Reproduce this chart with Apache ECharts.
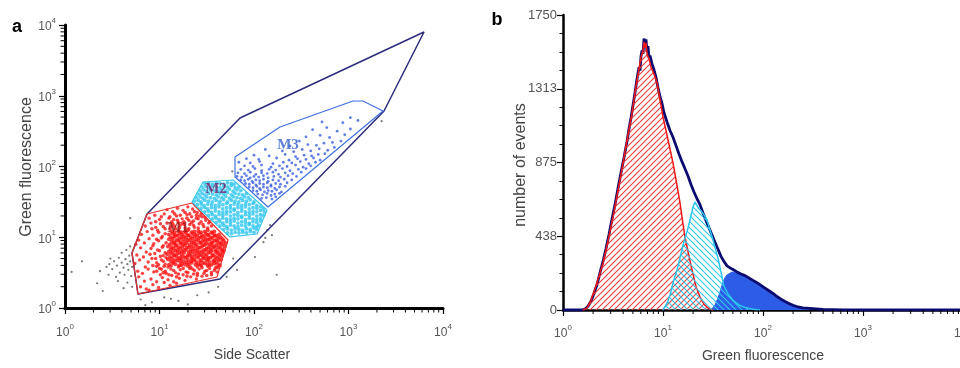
<!DOCTYPE html>
<html><head><meta charset="utf-8">
<script src="https://cdn.jsdelivr.net/npm/echarts@6/dist/echarts.min.js"></script>
<style>html,body{margin:0;padding:0;background:#fff}#c{width:960px;height:368px}</style>
</head><body><div id="c"></div>
<script>
// ---------- DATA (scatter values are log10 of Side Scatter / Green fluorescence) ----------
const decades = [1, 10, 100, 1000];
const minorMults = [2, 3, 4, 5, 6, 7, 8, 9];
const countTicks = [0, 437.5, 875, 1312.5, 1750];

const gateOuter = [[0.868,1.329],[1.852,2.686],[3.799,3.901],[3.376,2.784],[1.640,0.410],[0.772,0.198],[0.709,0.777],[0.868,1.329]];
const gateM1 = [[0.868,1.329],[1.344,1.484],[1.725,0.961],[1.608,0.438],[0.772,0.198],[0.709,0.777],[0.868,1.329]];
const gateM2 = [[1.344,1.498],[1.460,1.781],[1.778,1.809],[2.138,1.385],[2.032,1.046],[1.746,1.004],[1.344,1.498]];
const gateM3 = [[1.799,2.134],[2.275,2.558],[3.048,2.926],[3.153,2.926],[3.365,2.784],[2.148,1.428],[1.873,1.767],[1.799,1.852],[1.799,2.134]];
const gateLabels = [['M1',1.196,1.131],['M2',1.598,1.682],['M3',2.36,2.30]];

const redOuter = [
[0.80,0.30],[0.86,0.27],[0.93,0.33],[0.99,0.29],[1.05,0.36],[1.11,0.32],[0.84,0.38],[0.91,0.41],[0.97,0.37],[1.03,0.43],[1.09,0.40],[1.15,0.37],[1.21,0.42],[1.27,0.39],[1.33,0.44],[1.39,0.41],[1.45,0.45],[0.78,0.44],[1.18,0.35],[0.89,0.25],[1.01,0.47],[1.13,0.46],[1.25,0.47],[1.36,0.48],[1.47,0.49],[1.55,0.47],
[0.77,0.52],[0.82,0.49],[0.88,0.55],[0.94,0.51],[1.00,0.56],[1.06,0.52],[1.12,0.55],[1.17,0.50],[1.22,0.54],[1.28,0.51],[1.32,0.56],[1.37,0.53],[1.42,0.55],[1.48,0.52],[1.53,0.56],[1.58,0.53],[1.61,0.51],[0.85,0.58],[0.97,0.59],[1.09,0.58],[1.20,0.58],[1.30,0.59],[1.40,0.58],[1.51,0.59],[1.60,0.58],
[0.74,0.63],[0.79,0.68],[0.76,0.75],[0.83,0.72],[0.88,0.65],[0.92,0.70],[0.97,0.64],[1.02,0.68],[1.06,0.62],[0.86,0.79],[0.80,0.85],[0.75,0.90],[0.91,0.84],[0.95,0.77],[1.00,0.81],[1.04,0.74],[0.78,0.96],[0.84,0.92],[0.89,0.98],[0.94,0.91],[0.99,0.95],[1.04,0.88],[0.81,1.04],[0.87,1.08],[0.93,1.03],[0.98,1.10],[1.03,1.01],[0.85,1.16],[0.91,1.20],[0.96,1.14],[1.01,1.19],[1.06,1.12],[0.89,1.27],[0.95,1.31],[1.00,1.25],[1.05,1.33],[1.10,1.27],[1.08,1.39],[1.14,1.36],[1.19,1.41],[1.25,1.38],[1.30,1.43],[1.13,1.22],[1.18,1.30],[1.24,1.26],[1.29,1.32],[1.34,1.29],[1.35,1.40],[1.40,1.35],
[1.12,1.15],[1.17,1.12],[1.22,1.17],[1.27,1.13],[1.32,1.18],[1.37,1.14],[1.42,1.19],[1.47,1.15],[1.52,1.20],[1.15,1.25],[1.20,1.21],[1.26,1.22],[1.31,1.24],[1.36,1.23],[1.41,1.26],[1.45,1.29],[1.49,1.24],[1.39,1.31],[1.44,1.33]
];
const redMid = [
[0.97,0.52],[1.02,0.55],[1.07,0.49],[0.99,0.61],[1.04,0.66],[0.96,0.70],[1.01,0.73],[1.06,0.78],[0.98,0.82],[1.03,0.86],[1.07,0.92],[0.97,0.97],[1.02,0.99],[1.06,1.05],[0.99,1.07],[1.04,1.15],[1.08,1.20],[0.96,1.22],[1.02,1.29],[1.07,0.71],[1.05,0.59],[0.93,0.60],[0.90,0.76],[0.93,0.88],[0.92,1.12],
[1.11,1.12],[1.16,1.16],[1.21,1.13],[1.26,1.18],[1.31,1.12],[1.36,1.17],[1.41,1.13],[1.46,1.18],[1.51,1.13],[1.55,1.16],[1.14,1.19],[1.19,1.24],[1.24,1.20],[1.29,1.27],[1.34,1.21],[1.39,1.27],[1.44,1.22],[1.48,1.28],[1.53,1.22],[1.22,1.31],[1.27,1.35],[1.32,1.33],[1.37,1.36],[1.42,1.30],[1.16,1.33],[1.11,1.29],
[1.04,0.50],[1.10,0.47],[1.15,0.53],[1.20,0.48],[1.25,0.56],[1.30,0.50],[1.35,0.55],[1.40,0.49],[1.45,0.57],[1.50,0.53],[1.55,0.50],[1.59,0.56],[1.12,0.59],[1.23,0.60],[1.33,0.58],[1.43,0.61],[1.53,0.60],[1.62,0.57],[1.18,0.44],[1.29,0.45],[1.40,0.46],[1.50,0.46]
];
const redCore = [
[1.10,0.61],[1.14,0.63],[1.17,0.62],[1.21,0.60],[1.24,0.63],[1.27,0.61],[1.31,0.62],[1.34,0.64],[1.38,0.61],[1.41,0.62],[1.44,0.60],[1.48,0.63],[1.51,0.62],[1.55,0.61],[1.58,0.63],[1.62,0.62],[1.64,0.60],
[1.12,0.66],[1.15,0.65],[1.19,0.67],[1.22,0.65],[1.26,0.66],[1.29,0.64],[1.33,0.66],[1.36,0.67],[1.39,0.65],[1.43,0.66],[1.46,0.64],[1.50,0.67],[1.53,0.65],[1.57,0.66],[1.60,0.65],[1.63,0.67],
[1.09,0.69],[1.13,0.70],[1.16,0.68],[1.20,0.70],[1.23,0.69],[1.27,0.71],[1.30,0.68],[1.34,0.70],[1.37,0.69],[1.41,0.71],[1.44,0.68],[1.47,0.70],[1.51,0.69],[1.54,0.71],[1.58,0.68],[1.61,0.70],[1.65,0.69],
[1.11,0.72],[1.15,0.74],[1.18,0.73],[1.22,0.71],[1.25,0.73],[1.29,0.72],[1.32,0.74],[1.35,0.72],[1.39,0.73],[1.42,0.75],[1.46,0.72],[1.49,0.73],[1.52,0.71],[1.56,0.74],[1.59,0.72],[1.63,0.73],[1.66,0.74],
[1.08,0.76],[1.12,0.77],[1.16,0.75],[1.19,0.77],[1.23,0.76],[1.26,0.78],[1.30,0.75],[1.33,0.77],[1.37,0.76],[1.40,0.78],[1.44,0.75],[1.47,0.77],[1.50,0.76],[1.54,0.78],[1.57,0.75],[1.61,0.77],[1.64,0.76],[1.67,0.78],
[1.10,0.80],[1.14,0.79],[1.17,0.81],[1.21,0.79],[1.24,0.80],[1.28,0.82],[1.31,0.79],[1.35,0.80],[1.38,0.81],[1.42,0.79],[1.45,0.80],[1.49,0.82],[1.52,0.79],[1.55,0.81],[1.59,0.80],[1.62,0.79],[1.66,0.81],[1.68,0.81],
[1.12,0.83],[1.15,0.84],[1.19,0.82],[1.22,0.84],[1.26,0.83],[1.29,0.85],[1.33,0.82],[1.36,0.84],[1.40,0.83],[1.43,0.85],[1.47,0.82],[1.50,0.84],[1.54,0.83],[1.57,0.85],[1.60,0.82],[1.64,0.84],[1.67,0.83],
[1.09,0.87],[1.13,0.86],[1.17,0.88],[1.20,0.86],[1.24,0.87],[1.27,0.89],[1.31,0.86],[1.34,0.87],[1.38,0.88],[1.41,0.86],[1.45,0.87],[1.48,0.89],[1.52,0.86],[1.55,0.88],[1.58,0.87],[1.62,0.86],[1.65,0.88],[1.69,0.87],
[1.11,0.90],[1.15,0.91],[1.18,0.89],[1.22,0.91],[1.25,0.90],[1.29,0.92],[1.32,0.89],[1.36,0.91],[1.39,0.90],[1.43,0.92],[1.46,0.89],[1.50,0.91],[1.53,0.90],[1.56,0.92],[1.60,0.89],[1.63,0.91],[1.67,0.90],[1.70,0.92],
[1.13,0.94],[1.16,0.93],[1.20,0.95],[1.23,0.93],[1.27,0.94],[1.30,0.96],[1.34,0.93],[1.37,0.94],[1.41,0.95],[1.44,0.93],[1.48,0.94],[1.51,0.96],[1.55,0.93],[1.58,0.95],[1.61,0.94],[1.65,0.93],[1.68,0.95],
[1.10,0.97],[1.14,0.98],[1.18,0.96],[1.21,0.98],[1.25,0.97],[1.28,0.99],[1.32,0.96],[1.35,0.98],[1.39,0.97],[1.42,0.99],[1.46,0.96],[1.49,0.98],[1.53,0.97],[1.56,0.99],[1.60,0.96],[1.63,0.98],[1.67,0.97],
[1.12,1.00],[1.16,1.01],[1.19,1.02],[1.23,1.00],[1.26,1.01],[1.30,1.03],[1.33,1.00],[1.37,1.01],[1.40,1.02],[1.44,1.00],[1.47,1.01],[1.51,1.03],[1.54,1.00],[1.58,1.02],[1.61,1.01],[1.65,1.00],
[1.10,1.04],[1.14,1.05],[1.17,1.03],[1.21,1.05],[1.24,1.04],[1.28,1.06],[1.31,1.03],[1.35,1.05],[1.38,1.04],[1.42,1.06],[1.45,1.03],[1.49,1.05],[1.52,1.04],[1.56,1.06],[1.59,1.03],[1.63,1.04],
[1.13,1.08],[1.16,1.07],[1.20,1.09],[1.23,1.07],[1.27,1.08],[1.30,1.10],[1.34,1.07],[1.37,1.08],[1.41,1.09],[1.44,1.07],[1.48,1.08],[1.51,1.10],[1.55,1.07],[1.58,1.08]
];

const cyanPts = [
[1.72,1.06],[1.76,1.05],[1.80,1.07],[1.84,1.06],[1.88,1.07],[1.92,1.06],[1.96,1.08],[2.00,1.07],
[1.68,1.11],[1.72,1.12],[1.76,1.10],[1.80,1.12],[1.84,1.11],[1.88,1.10],[1.92,1.12],[1.96,1.11],[2.00,1.13],[2.03,1.11],
[1.64,1.16],[1.68,1.17],[1.71,1.15],[1.75,1.17],[1.79,1.16],[1.83,1.15],[1.87,1.17],[1.91,1.16],[1.95,1.18],[1.99,1.16],[2.03,1.15],[2.05,1.17],
[1.60,1.21],[1.64,1.22],[1.67,1.20],[1.71,1.22],[1.75,1.21],[1.79,1.23],[1.83,1.20],[1.87,1.22],[1.91,1.21],[1.95,1.20],[1.99,1.22],[2.03,1.21],[2.07,1.23],
[1.56,1.26],[1.60,1.27],[1.63,1.25],[1.67,1.27],[1.71,1.26],[1.75,1.25],[1.79,1.27],[1.83,1.26],[1.87,1.28],[1.91,1.25],[1.95,1.27],[1.99,1.26],[2.03,1.25],[2.07,1.27],
[1.52,1.31],[1.56,1.32],[1.59,1.30],[1.63,1.32],[1.67,1.31],[1.71,1.33],[1.75,1.30],[1.79,1.32],[1.83,1.31],[1.87,1.30],[1.91,1.32],[1.95,1.31],[1.99,1.33],[2.03,1.30],[2.07,1.32],[2.10,1.31],
[1.48,1.36],[1.52,1.37],[1.55,1.35],[1.59,1.37],[1.63,1.36],[1.67,1.35],[1.71,1.37],[1.75,1.36],[1.79,1.38],[1.83,1.35],[1.87,1.37],[1.91,1.36],[1.95,1.35],[1.99,1.37],[2.03,1.36],[2.07,1.38],[2.11,1.36],
[1.44,1.41],[1.48,1.42],[1.51,1.40],[1.55,1.42],[1.59,1.41],[1.63,1.43],[1.67,1.40],[1.71,1.42],[1.75,1.41],[1.79,1.40],[1.83,1.42],[1.87,1.41],[1.91,1.43],[1.95,1.40],[1.99,1.42],[2.03,1.41],[2.07,1.43],[2.10,1.40],
[1.40,1.46],[1.44,1.47],[1.47,1.45],[1.51,1.47],[1.55,1.46],[1.59,1.45],[1.63,1.47],[1.67,1.46],[1.71,1.48],[1.75,1.45],[1.79,1.47],[1.83,1.46],[1.87,1.45],[1.91,1.47],[1.95,1.46],[1.99,1.48],[2.03,1.45],
[1.37,1.51],[1.41,1.52],[1.44,1.50],[1.48,1.52],[1.52,1.51],[1.56,1.50],[1.60,1.52],[1.64,1.51],[1.68,1.53],[1.72,1.50],[1.76,1.52],[1.80,1.51],[1.84,1.50],[1.88,1.52],[1.92,1.51],[1.96,1.53],[2.00,1.50],
[1.39,1.56],[1.43,1.57],[1.46,1.55],[1.50,1.57],[1.54,1.56],[1.58,1.55],[1.62,1.57],[1.66,1.56],[1.70,1.58],[1.74,1.55],[1.78,1.57],[1.82,1.56],[1.86,1.55],[1.90,1.57],[1.94,1.56],
[1.41,1.61],[1.45,1.62],[1.48,1.60],[1.52,1.62],[1.56,1.61],[1.60,1.60],[1.64,1.62],[1.68,1.61],[1.72,1.63],[1.76,1.60],[1.80,1.62],[1.84,1.61],[1.88,1.60],[1.92,1.62],
[1.43,1.66],[1.47,1.67],[1.50,1.65],[1.54,1.67],[1.58,1.66],[1.62,1.65],[1.66,1.67],[1.70,1.66],[1.74,1.68],[1.78,1.65],[1.82,1.67],[1.86,1.66],
[1.45,1.71],[1.49,1.72],[1.52,1.70],[1.56,1.72],[1.60,1.71],[1.64,1.70],[1.68,1.72],[1.72,1.71],[1.76,1.73],[1.80,1.70],[1.84,1.71],
[1.48,1.76],[1.52,1.77],[1.56,1.75],[1.60,1.77],[1.64,1.76],[1.68,1.75],[1.72,1.77],[1.76,1.76],[1.79,1.75]
];

const bluePts = [
[2.08,1.55],[2.13,1.56],[2.19,1.54],[2.23,1.57],
[2.04,1.61],[2.09,1.60],[2.14,1.62],[2.18,1.59],[2.22,1.61],[2.27,1.62],
[1.99,1.66],[2.03,1.65],[2.07,1.67],[2.11,1.64],[2.15,1.66],[2.19,1.65],[2.24,1.67],[2.29,1.64],
[1.95,1.71],[1.99,1.70],[2.03,1.72],[2.06,1.69],[2.10,1.71],[2.14,1.70],[2.18,1.72],[2.22,1.69],[2.27,1.71],[2.33,1.72],
[1.91,1.76],[1.95,1.75],[1.99,1.77],[2.02,1.74],[2.06,1.76],[2.10,1.75],[2.14,1.77],[2.18,1.74],[2.23,1.76],[2.28,1.75],[2.35,1.77],
[1.86,1.81],[1.90,1.80],[1.94,1.82],[1.98,1.79],[2.02,1.81],[2.06,1.80],[2.10,1.82],[2.15,1.79],[2.20,1.81],[2.26,1.80],[2.32,1.82],[2.40,1.81],
[1.82,1.86],[1.87,1.85],[1.92,1.87],[1.96,1.84],[2.00,1.86],[2.05,1.85],[2.10,1.87],[2.15,1.84],[2.21,1.86],[2.28,1.85],[2.36,1.87],[2.45,1.86],
[1.83,1.91],[1.90,1.90],[1.96,1.92],[2.02,1.89],[2.08,1.91],[2.14,1.90],[2.20,1.92],[2.26,1.89],[2.33,1.91],[2.41,1.90],[2.50,1.92],
[1.86,1.96],[1.94,1.95],[2.01,1.97],[2.08,1.94],[2.16,1.96],[2.23,1.95],[2.30,1.97],[2.38,1.94],[2.47,1.96],[2.55,1.97],
[1.90,2.01],[1.99,2.00],[2.08,2.02],[2.18,1.99],[2.27,2.01],[2.35,2.00],[2.44,2.02],[2.52,1.99],[2.60,2.01],
[1.84,2.06],[1.96,2.05],[2.06,2.07],[2.20,2.04],[2.31,2.06],[2.40,2.05],[2.49,2.07],[2.58,2.04],[2.65,2.06],
[1.92,2.11],[2.05,2.10],[2.24,2.12],[2.37,2.09],[2.46,2.11],[2.55,2.10],[2.63,2.12],[2.70,2.09],
[2.00,2.16],[2.16,2.15],[2.33,2.17],[2.44,2.14],[2.53,2.16],[2.61,2.15],[2.68,2.17],[2.75,2.18],
[2.30,2.22],[2.42,2.21],[2.51,2.24],[2.60,2.22],[2.69,2.25],[2.78,2.23],[2.85,2.27],[2.12,2.24],[2.38,2.29],[2.57,2.31],[2.66,2.30],[2.74,2.33],[2.83,2.34],[2.92,2.36],[2.48,2.36],
[2.55,2.42],[2.70,2.44],[2.80,2.41],[2.96,2.45],[2.62,2.52],[2.77,2.55],[2.88,2.50],[3.02,2.53],[2.94,2.62],[3.02,2.69],[2.72,2.63],[3.10,2.65]
];

const grayPts = [
[0.07,0.51],[0.18,0.66],[0.34,0.35],[0.40,0.24],[0.37,0.52],[0.44,0.58],[0.47,0.62],[0.50,0.55],[0.52,0.66],[0.55,0.60],[0.57,0.71],[0.60,0.64],[0.62,0.57],[0.64,0.69],[0.66,0.62],[0.68,0.74],[0.58,0.50],[0.63,0.47],[0.67,0.54],[0.70,0.45],[0.54,0.44],[0.60,0.78],[0.65,0.82],[0.69,0.66],[0.71,0.58],[0.48,0.70],[0.56,0.38],[0.66,0.36],[0.71,0.30],[0.62,0.28],[0.69,0.87],[0.46,0.47],
[0.80,0.12],[0.92,0.08],[1.05,0.15],[1.12,0.13],[1.20,0.10],[1.30,0.05],[1.40,0.18],[1.52,0.22],[1.62,0.30],[0.85,0.04],
[1.71,0.44],[1.82,0.54],[1.78,0.70],[2.17,1.17],[2.14,1.10],[2.12,0.99],[2.19,1.03],[2.10,0.93],[0.69,1.27],[3.35,2.64],[2.01,0.72],[2.24,0.47],[1.77,1.93]
];

// histograms: [log10(Green fluorescence), number of events]
const histTotal = [
[0.00,0],[0.10,0],[0.19,0],[0.22,6],[0.25,22],[0.28,52],[0.31,98],[0.34,150],[0.37,222],[0.40,288],[0.43,365],[0.46,448],[0.49,540],[0.52,625],[0.55,722],[0.58,815],[0.61,905],[0.64,1000],[0.66,1075],[0.68,1140],[0.70,1215],[0.72,1290],[0.74,1370],[0.76,1440],[0.77,1420],[0.78,1505],[0.79,1540],[0.80,1520],[0.81,1610],[0.82,1575],[0.83,1605],[0.84,1530],[0.85,1565],[0.86,1495],[0.87,1510],[0.89,1460],[0.91,1425],[0.93,1380],[0.95,1320],[0.97,1265],[0.99,1225],[1.01,1170],[1.04,1115],[1.07,1065],[1.10,1025],[1.13,975],[1.16,925],[1.19,880],[1.22,838],[1.25,795],[1.28,745],[1.31,700],[1.34,660],[1.37,625],[1.40,575],[1.43,530],[1.46,488],[1.49,445],[1.52,402],[1.55,360],[1.58,318],[1.61,288],[1.64,262],[1.67,250],[1.70,240],[1.74,226],[1.78,214],[1.82,204],[1.86,190],[1.90,176],[1.94,162],[1.98,146],[2.02,130],[2.06,114],[2.10,98],[2.14,80],[2.18,64],[2.22,50],[2.26,38],[2.30,28],[2.35,18],[2.40,12],[2.50,8],[2.60,4],[2.70,2],[2.80,0],[3.20,0],[4.00,0]
];
const histM1 = [
[0.20,0],[0.24,12],[0.28,58],[0.32,128],[0.36,200],[0.40,279],[0.45,410],[0.50,552],[0.55,710],[0.60,872],[0.65,1040],[0.69,1168],[0.73,1330],[0.76,1430],[0.78,1500],[0.80,1540],[0.81,1590],[0.82,1555],[0.83,1585],[0.84,1520],[0.86,1490],[0.88,1440],[0.91,1400],[0.94,1350],[0.97,1250],[1.00,1145],[1.05,1010],[1.10,872],[1.14,740],[1.17,635],[1.20,510],[1.22,433],[1.26,320],[1.29,237],[1.33,140],[1.37,77],[1.41,35],[1.45,12],[1.50,0]
];
const histM2 = [
[1.00,0],[1.04,40],[1.07,89],[1.10,160],[1.14,237],[1.17,310],[1.20,385],[1.25,486],[1.28,560],[1.30,611],[1.32,640],[1.34,635],[1.36,600],[1.39,581],[1.42,555],[1.44,534],[1.47,475],[1.50,415],[1.53,350],[1.55,308],[1.58,225],[1.61,142],[1.65,95],[1.70,58],[1.76,30],[1.82,15],[1.90,5],[1.97,0]
];
const histM3 = [
[1.48,0],[1.52,30],[1.55,71],[1.58,125],[1.60,166],[1.62,192],[1.64,208],[1.66,218],[1.69,225],[1.72,222],[1.77,214],[1.81,204],[1.84,196],[1.88,180],[1.92,168],[1.96,152],[1.99,140],[2.04,112],[2.10,89],[2.16,62],[2.24,42],[2.30,24],[2.37,14],[2.50,8],[2.60,4],[2.67,0]
];

// ---------- BUILD ----------
const P = v => Math.pow(10, v);
const toReal = arr => arr.map(p => [P(p[0]), P(p[1])]);
const histReal = arr => arr.map(p => [P(p[0]), p[1]]);
const minorVals = [];
decades.forEach(d => minorMults.forEach(m => minorVals.push(d * m)));

function hatch(color, dir) {
  const s = 6, c = document.createElement('canvas');
  c.width = s; c.height = s;
  const g = c.getContext('2d');
  g.strokeStyle = color; g.lineWidth = 1.1; g.beginPath();
  if (dir > 0) {
    g.moveTo(0, s); g.lineTo(s, 0);
    g.moveTo(-1, 1); g.lineTo(1, -1);
    g.moveTo(s - 1, s + 1); g.lineTo(s + 1, s - 1);
  } else {
    g.moveTo(0, 0); g.lineTo(s, s);
    g.moveTo(-1, s - 1); g.lineTo(1, s + 1);
    g.moveTo(s - 1, -1); g.lineTo(s + 1, 1);
  }
  g.stroke();
  return { image: c, repeat: 'repeat' };
}

const FONT = "'Liberation Sans Narrow', 'Liberation Sans', Arial, sans-serif";
const supRich = {
  b: { fontSize: 12, fontFamily: FONT, color: '#555', lineHeight: 16, verticalAlign: 'bottom' },
  s: { fontSize: 8, fontFamily: FONT, color: '#555', lineHeight: 9, verticalAlign: 'top' }
};
const powFmt = v => '{b|10}{s|' + Math.round(Math.log10(v)) + '}';

function logAxis(gi, lineW, margin, extra) {
  return Object.assign({
    type: 'log', logBase: 10, min: 1, max: 10000, gridIndex: gi,
    axisLine: { show: true, lineStyle: { color: '#000', width: lineW } },
    axisTick: { show: true, length: 6, lineStyle: { color: '#000', width: 1.2 } },
    axisLabel: { formatter: powFmt, rich: supRich, margin: margin },
    splitLine: { show: false }, minorTick: { show: false }
  }, extra || {});
}

function minorSeries(xi, yi, horiz, base, len) {
  return {
    type: 'custom', xAxisIndex: xi, yAxisIndex: yi, silent: true, clip: false, z: 10,
    data: minorVals.map(v => horiz ? [v, base] : [base, v]),
    renderItem: (params, api) => {
      const p = api.coord([api.value(0), api.value(1)]);
      return horiz
        ? { type: 'line', shape: { x1: p[0], y1: p[1], x2: p[0], y2: p[1] + len }, style: { stroke: '#000', lineWidth: 1 } }
        : { type: 'line', shape: { x1: p[0], y1: p[1], x2: p[0] - len, y2: p[1] }, style: { stroke: '#000', lineWidth: 1 } };
    }
  };
}

function gateLine(pts, color, w) {
  return { type: 'line', xAxisIndex: 0, yAxisIndex: 0, data: toReal(pts), showSymbol: false, symbol: 'none',
    lineStyle: { color: color, width: w }, z: 6, silent: true };
}
function dots(pts, color, size) {
  return { type: 'scatter', xAxisIndex: 0, yAxisIndex: 0, data: toReal(pts), symbolSize: size,
    itemStyle: { color: color }, z: 3, silent: true };
}
function histLine(pts, color, w, area, z) {
  const s = { type: 'line', xAxisIndex: 1, yAxisIndex: 1, data: histReal(pts), showSymbol: false, symbol: 'none',
    lineStyle: { color: color, width: w }, z: z, silent: true };
  if (area) s.areaStyle = area;
  return s;
}

const labelColors = { M1: '#9c1414', M2: '#6e1f6c', M3: '#3560cc' };

const option = {
  animation: false,
  grid: [
    { left: 65, top: 25, width: 378, height: 283, outerBoundsMode: 'none', containLabel: false },
    { left: 563, top: 15, width: 400, height: 295, outerBoundsMode: 'none', containLabel: false }
  ],
  xAxis: [
    logAxis(0, 3, 15),
    logAxis(1, 2.5, 14)
  ],
  yAxis: [
    logAxis(0, 3, 9),
    { type: 'value', gridIndex: 1, min: 0, max: 1750, interval: 437.5,
      axisLine: { show: true, lineStyle: { color: '#000', width: 2.5 } },
      axisTick: { show: true, length: 6, lineStyle: { color: '#000', width: 1.2 } },
      minorTick: { show: true, splitNumber: 4, length: 3.5, lineStyle: { color: '#000', width: 1 } },
      axisLabel: { formatter: v => String(Math.round(v)), fontSize: 13, fontFamily: FONT, color: '#555', margin: 6 },
      splitLine: { show: false } }
  ],
  series: [
    dots(grayPts, '#555', 2.2),
    dots(redOuter, '#ff1414', 3.4),
    dots(redMid, '#ff1414', 3.6),
    dots(redCore, '#ff1010', 4.0),
    dots(cyanPts, '#2ec6ef', 3.8),
    dots(bluePts, '#3a5ee0', 2.8),
    gateLine(gateOuter, '#2c2c7c', 1.5),
    gateLine(gateM1, '#e8322a', 1.2),
    gateLine(gateM2, '#3cc8ea', 1.2),
    gateLine(gateM3, '#3f72e0', 1.2),
    { type: 'scatter', xAxisIndex: 0, yAxisIndex: 0, symbolSize: 0, z: 8, silent: true,
      data: gateLabels.map(g => ({ name: g[0], value: [P(g[1]), P(g[2])],
        label: { show: true, formatter: g[0], position: 'inside', color: labelColors[g[0]],
          fontFamily: "'Liberation Serif', 'Times New Roman', serif", fontWeight: 'bold', fontSize: 15 } })) },
    minorSeries(0, 0, true, 1, 4.5),
    minorSeries(0, 0, false, 1, 4.5),
    minorSeries(1, 1, true, 0, 4),
    histLine(histM3, '#2d5ce6', 1, { color: '#2d5ce6', opacity: 1 }, 2),
    histLine(histTotal, '#0c0c70', 2.8, null, 3),
    histLine(histM1, '#f01818', 1.5, { color: hatch('#f03a3a', 1), opacity: 1 }, 4),
    histLine(histM2, '#28c6ee', 1.5, { color: hatch('#30c8ee', -1), opacity: 1 }, 5)
  ],
  graphic: [
    { type: 'text', x: 17, y: 27, style: { text: 'a', font: "bold 18px 'Liberation Sans', Arial", fill: '#000', align: 'center', verticalAlign: 'middle' } },
    { type: 'text', x: 497, y: 20, style: { text: 'b', font: "bold 18px 'Liberation Sans', Arial", fill: '#000', align: 'center', verticalAlign: 'middle' } },
    { type: 'text', x: 27, y: 167, rotation: Math.PI / 2, style: { text: 'Green fluorescence', font: "16px 'Liberation Sans', Arial", fill: '#444', align: 'center', verticalAlign: 'middle' } },
    { type: 'text', x: 521, y: 165, rotation: Math.PI / 2, style: { text: 'number of events', font: "16px 'Liberation Sans', Arial", fill: '#444', align: 'center', verticalAlign: 'middle' } },
    { type: 'text', x: 252, y: 355, style: { text: 'Side Scatter', font: "14px " + FONT, fill: '#444', align: 'center', verticalAlign: 'middle' } },
    { type: 'text', x: 763, y: 356, style: { text: 'Green fluorescence', font: "14px " + FONT, fill: '#444', align: 'center', verticalAlign: 'middle' } }
  ]
};

const chart = echarts.init(document.getElementById('c'));
chart.setOption(option);
</script>
</body></html>
